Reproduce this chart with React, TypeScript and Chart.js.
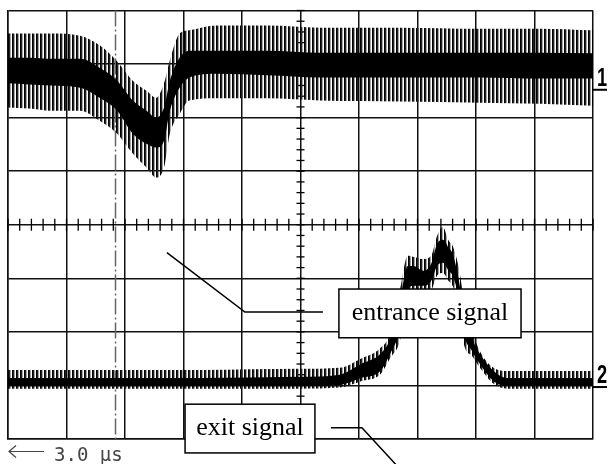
import React, { useEffect, useRef } from "react";
import { Chart, registerables } from "chart.js";

Chart.register(...registerables);

// ---- Data (x: time in µs, 3.0 µs/div; y: vertical divisions, 0 = screen centre) ----
const timePerDivUs = 3.0;
const triggerTimeUs = 5.5;
const ch1GroundDiv = 2.52;
const ch2GroundDiv = -3.03;

// Channel 1 (entrance signal): noise envelope (outer = spike tips, inner = dense band)
const ch1Time = [0, 1.1, 2.2, 3.7, 4.7, 5.6, 6.4, 7.1, 7.6, 8.0, 8.3, 8.8, 9.3, 10.7, 13.3, 16.0, 20.1, 24.2, 27.3, 30];
const ch1OuterTop = [3.57, 3.57, 3.57, 3.53, 3.35, 3.05, 2.69, 2.5, 2.37, 2.64, 3.07, 3.57, 3.63, 3.72, 3.72, 3.68, 3.68, 3.66, 3.66, 3.63];
const ch1InnerTop = [3.12, 3.12, 3.1, 3.1, 2.93, 2.69, 2.32, 2.13, 2.0, 2.19, 2.69, 3.12, 3.25, 3.25, 3.25, 3.21, 3.21, 3.21, 3.21, 3.2];
const ch1InnerBot = [2.64, 2.62, 2.6, 2.56, 2.37, 2.13, 1.7, 1.51, 1.44, 1.57, 2.13, 2.56, 2.75, 2.82, 2.79, 2.75, 2.75, 2.75, 2.73, 2.73];
const ch1OuterBot = [2.19, 2.17, 2.13, 2.13, 1.94, 1.7, 1.33, 1.07, 0.88, 1.07, 1.7, 2.07, 2.32, 2.36, 2.36, 2.32, 2.3, 2.28, 2.26, 2.22];

// Channel 2 (exit signal)
const ch2Time = [0, 4.7, 9.9, 15.0, 17.0, 18.1, 19.1, 19.6, 20.1, 20.5, 20.8, 21.3, 21.7, 22.0, 22.3, 22.6, 22.8, 23.1, 23.4, 23.8, 24.2, 24.9, 25.6, 30];
const ch2OuterTop = [-2.71, -2.71, -2.71, -2.69, -2.67, -2.5, -2.3, -2.04, -1.23, -0.58, -0.6, -0.64, -0.58, -0.21, -0.04, -0.3, -0.39, -0.77, -1.42, -1.98, -2.36, -2.67, -2.73, -2.73];
const ch2InnerTop = [-2.86, -2.86, -2.86, -2.84, -2.8, -2.6, -2.41, -2.13, -1.42, -0.77, -0.77, -0.86, -0.73, -0.36, -0.28, -0.43, -0.54, -0.99, -1.7, -2.13, -2.41, -2.73, -2.86, -2.86];
const ch2InnerBot = [-3.01, -3.01, -3.01, -3.01, -2.99, -2.86, -2.73, -2.41, -1.98, -1.23, -1.14, -1.14, -1.05, -0.77, -0.71, -0.86, -0.95, -1.33, -2.07, -2.36, -2.6, -2.92, -3.01, -3.01];
const ch2OuterBot = [-3.06, -3.06, -3.06, -3.06, -3.04, -2.92, -2.79, -2.49, -2.17, -1.42, -1.33, -1.33, -1.23, -0.95, -0.9, -1.05, -1.14, -1.51, -2.26, -2.45, -2.67, -2.97, -3.06, -3.06];

const entranceLabel = "entrance signal";
const exitLabel = "exit signal";
const timeLabel = `${timePerDivUs.toFixed(1)} μs`;

const pts = (xs: number[], ys: number[]) => xs.map((x, i) => ({ x, y: ys[i] }));

function stripePattern(ctx: CanvasRenderingContext2D) {
  const c = document.createElement("canvas");
  c.width = 4;
  c.height = 1;
  const g = c.getContext("2d")!;
  g.fillStyle = "#000";
  g.fillRect(0, 0, 1, 1);
  g.fillStyle = "#222";
  g.fillRect(1, 0, 1, 1);
  g.fillStyle = "rgba(0,0,0,0.35)";
  g.fillRect(2, 0, 1, 1);
  return ctx.createPattern(c, "repeat")!;
}

const scopePlugin = {
  id: "scope",
  beforeDatasetsDraw(chart: any) {
    const { ctx } = chart;
    const xs = chart.scales.x;
    const ys = chart.scales.y;
    const cx = xs.getPixelForValue(15);
    const cy = ys.getPixelForValue(0);
    ctx.save();
    ctx.strokeStyle = "#000";
    ctx.lineWidth = 1.3;
    // minor ticks on centre horizontal axis
    for (let i = 0; i <= 50; i++) {
      const x = xs.getPixelForValue(i * (timePerDivUs / 5));
      ctx.beginPath();
      ctx.moveTo(x, cy - 6);
      ctx.lineTo(x, cy + 6);
      ctx.stroke();
    }
    // minor ticks on centre vertical axis
    for (let i = 0; i <= 40; i++) {
      const y = ys.getPixelForValue(-4 + i * 0.2);
      ctx.beginPath();
      ctx.moveTo(cx - 4, y);
      ctx.lineTo(cx + 4, y);
      ctx.stroke();
    }
    // trigger dash-dot line
    const tx = Math.round(xs.getPixelForValue(triggerTimeUs)) + 0.5;
    ctx.strokeStyle = "#666";
    ctx.lineWidth = 1.5;
    ctx.setLineDash([16, 3, 2, 3]);
    ctx.beginPath();
    ctx.moveTo(tx, ys.getPixelForValue(4));
    ctx.lineTo(tx, ys.getPixelForValue(-4));
    ctx.stroke();
    ctx.restore();
  },
  afterDatasetsDraw(chart: any) {
    const { ctx } = chart;
    const xs = chart.scales.x;
    const ys = chart.scales.y;
    const px = (t: number) => xs.getPixelForValue(t);
    const py = (v: number) => ys.getPixelForValue(v);
    const right = chart.chartArea.right;
    ctx.save();

    // channel markers
    const marker = (label: string, v: number) => {
      const y = py(v);
      ctx.strokeStyle = "#000";
      ctx.lineWidth = 2;
      ctx.beginPath();
      ctx.moveTo(right, y);
      ctx.lineTo(right + 14, y);
      ctx.stroke();
      ctx.save();
      ctx.translate(right + 4, y - 4);
      ctx.scale(0.7, 1);
      ctx.fillStyle = "#000";
      ctx.font = "bold 26px 'Liberation Sans', Arial, sans-serif";
      ctx.textBaseline = "alphabetic";
      ctx.fillText(label, 0, 0);
      ctx.restore();
    };
    marker("1", ch1GroundDiv);
    marker("2", ch2GroundDiv);

    // annotation boxes with leaders
    ctx.strokeStyle = "#000";
    ctx.lineWidth = 1.5;
    ctx.beginPath();
    ctx.moveTo(px(8.15), py(-0.52));
    ctx.lineTo(px(12.15), py(-1.63));
    ctx.lineTo(px(16.15), py(-1.63));
    ctx.stroke();
    ctx.beginPath();
    ctx.moveTo(px(16.56), py(-3.79));
    ctx.lineTo(px(18.15), py(-3.79));
    ctx.lineTo(px(19.95), py(-4.5));
    ctx.stroke();

    const box = (t0: number, t1: number, v0: number, v1: number, text: string) => {
      const x0 = px(t0), x1 = px(t1), y0 = py(v0), y1 = py(v1);
      ctx.fillStyle = "#fff";
      ctx.fillRect(x0, y0, x1 - x0, y1 - y0);
      ctx.strokeStyle = "#000";
      ctx.lineWidth = 1.5;
      ctx.strokeRect(x0, y0, x1 - x0, y1 - y0);
      ctx.fillStyle = "#000";
      ctx.font = "26px 'Liberation Serif', 'Times New Roman', serif";
      ctx.textAlign = "center";
      ctx.textBaseline = "middle";
      ctx.fillText(text, (x0 + x1) / 2, (y0 + y1) / 2);
    };
    box(16.97, 26.31, -1.2, -2.11, entranceLabel);
    box(9.08, 15.74, -3.35, -4.26, exitLabel);

    // time/div label
    const ax0 = chart.chartArea.left;
    const ay = 451.5;
    ctx.strokeStyle = "#444";
    ctx.lineWidth = 1.2;
    ctx.beginPath();
    ctx.moveTo(ax0 + 36, ay);
    ctx.lineTo(ax0 + 1, ay);
    ctx.moveTo(ax0 + 8, ay - 6);
    ctx.lineTo(ax0 + 1, ay);
    ctx.lineTo(ax0 + 8, ay + 6);
    ctx.stroke();
    ctx.fillStyle = "#444";
    ctx.font = "19px 'DejaVu Sans Mono', monospace";
    ctx.textAlign = "left";
    ctx.textBaseline = "alphabetic";
    ctx.fillText(timeLabel, 54, 461);
    ctx.restore();
  },
};

export default function App() {
  const ref = useRef<HTMLCanvasElement | null>(null);
  useEffect(() => {
    const canvas = ref.current!;
    const ctx = canvas.getContext("2d")!;
    const pat = stripePattern(ctx);
    const common = { pointRadius: 0, borderWidth: 0, tension: 0.3, cubicInterpolationMode: "monotone" as const };
    const chart = new Chart(canvas, {
      type: "line",
      data: {
        datasets: [
          { ...common, order: 2, data: pts(ch1Time, ch1OuterBot), borderColor: "#000", fill: false },
          { ...common, order: 2, data: pts(ch1Time, ch1OuterTop), borderColor: "#000", backgroundColor: pat, fill: "-1" },
          { ...common, order: 1, data: pts(ch1Time, ch1InnerBot), borderColor: "#000", fill: false },
          { ...common, order: 1, data: pts(ch1Time, ch1InnerTop), borderColor: "#000", backgroundColor: "#000", fill: "-1" },
          { ...common, order: 2, data: pts(ch2Time, ch2OuterBot), borderColor: "#000", fill: false },
          { ...common, order: 2, data: pts(ch2Time, ch2OuterTop), borderColor: "#000", backgroundColor: pat, fill: "-1" },
          { ...common, order: 1, data: pts(ch2Time, ch2InnerBot), borderColor: "#000", fill: false },
          { ...common, order: 1, data: pts(ch2Time, ch2InnerTop), borderColor: "#000", backgroundColor: "#000", fill: "-1" },
        ] as any,
      },
      options: {
        animation: false,
        responsive: true,
        maintainAspectRatio: false,
        layout: { padding: { left: 8, top: 10.5, right: 15, bottom: 25 } },
        plugins: { legend: { display: false }, tooltip: { enabled: false } },
        scales: {
          x: {
            type: "linear",
            min: 0,
            max: 30,
            ticks: { display: false, stepSize: timePerDivUs },
            grid: { color: "#111", lineWidth: 1.5, drawTicks: false },
            border: { display: true, color: "#111", width: 1.5 },
          },
          y: {
            type: "linear",
            min: -4,
            max: 4,
            ticks: { display: false, stepSize: 1 },
            grid: { color: "#111", lineWidth: 1.5, drawTicks: false },
            border: { display: true, color: "#111", width: 1.5 },
          },
        },
      },
      plugins: [scopePlugin],
    });
    return () => chart.destroy();
  }, []);
  return (
    <div style={{ position: "absolute", left: 0, top: 0, width: 608, height: 464, background: "#fff" }}>
      <canvas ref={ref} style={{ display: "block" }} />
    </div>
  );
}
